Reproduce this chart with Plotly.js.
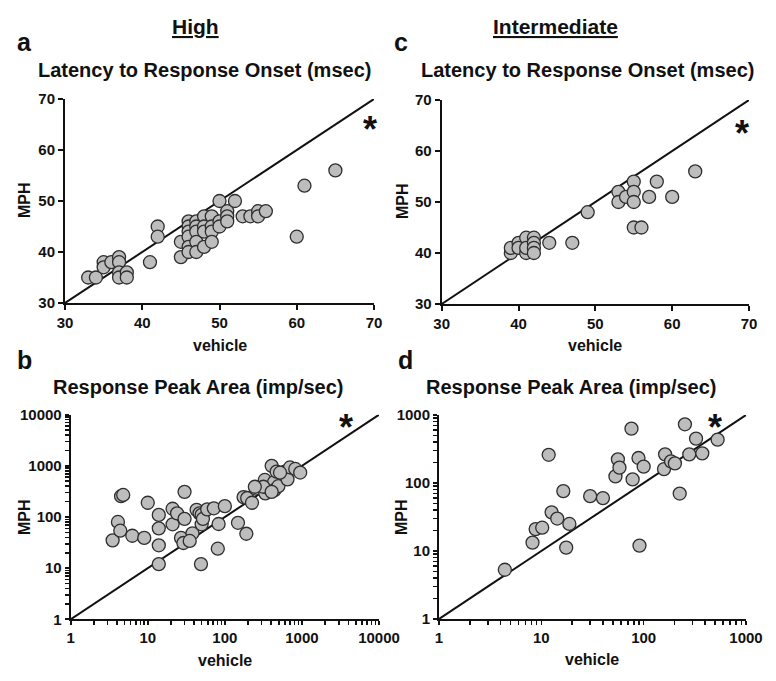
<!DOCTYPE html>
<html>
<head>
<meta charset="utf-8">
<script src="https://cdn.plot.ly/plotly-3.0.1.min.js"></script>
<style>html,body{margin:0;padding:0;background:#fff;}#chart{width:776px;height:681px;}</style>
</head>
<body>
<div id="chart"></div>
<script>
// ---- Data ----
// Panel a: High, Latency to Response Onset (msec)
const aVehicle = [33,34,35,35,36,37,37,37,37,38,38,41,42,42,45,45,46,46,46,46,46,46,47,47,47,47,47,48,48,48,48,49,49,49,49,50,50,50,51,51,51,52,53,54,55,55,56,60,61,65];
const aMPH     = [35,35,38,37,38,39,38,36,35,36,35,38,45,43,39,42,46,45,44,43,41,40,46,45,44,42,40,47,45,44,41,47,45,44,42,50,46,45,48,47,46,50,47,47,48,47,48,43,53,56];
// Panel c: Intermediate, Latency to Response Onset (msec)
const cVehicle = [39,39,40,40,41,41,41,42,42,42,42,44,47,49,53,53,54,55,55,55,55,56,57,58,60,63];
const cMPH     = [40,41,42,41,43,40,41,43,42,41,40,42,42,48,52,50,51,54,52,50,45,45,51,54,51,56];
// Panel b: High, Response Peak Area (imp/sec)
const bVehicle = [3.5,4.1,4.4,4.5,4.8,6.3,9,10,13.9,13.9,13.9,13.9,21,21,24,27,29,30,30,38,35,43,47,50,50,49,52,59,72,83,81,100,148,190,175,195,225,250,330,335,370,405,435,440,470,495,600,650,700,820,950,316,245,405,520];
const bMPH     = [35,80,54,255,270,43,39,190,110,60,28,12,72,145,118,39,31,310,92,48,34,138,118,110,72,12,92,141,148,73,24,163,77,47,245,235,190,360,530,290,360,1000,480,335,770,400,770,545,930,870,740,390,390,310,735];
// Panel d: Intermediate, Response Peak Area (imp/sec)
const dVehicle = [4.4,8.2,8.8,10.2,11.8,12.6,14.3,16.4,17.5,18.8,30,40,53,56,58,76,78,89,91,100,158,162,185,202,225,253,279,325,374,528];
const dMPH     = [5.3,13.3,21,22,260,37,30,76,11.2,25,64,60,125,223,168,630,113,233,12,174,160,264,208,194,70,730,264,450,273,434];
// Identity lines (MPH = vehicle)
const linLine = [30, 70];
const logLineB = [1, 10000];
const logLineD = [1, 1000];
// Tick labels
const linTicks = [30, 40, 50, 60, 70];
const logTicksB = [1, 10, 100, 1000, 10000];
const logTicksD = [1, 10, 100, 1000];
const minorDigits = [2, 3, 4, 5, 6, 7, 8, 9];
// Texts
const colTitles = ['High', 'Intermediate'];
const panelLetters = ['a', 'b', 'c', 'd'];
const panelTitles = ['Latency to Response Onset (msec)', 'Response Peak Area (imp/sec)'];

// ---- Drawing ----
const W = 776, H = 681;
const FONT = 'Arial, "Liberation Sans", sans-serif';
const fx = p => p / W;
const fy = p => 1 - p / H;

const marker = {size: 13, color: '#bdbdbd', line: {color: '#2e2e2e', width: 1.3}};
const lineStyle = {color: '#111', width: 2};

function pts(x, y, xa, ya) {
  return {x: x, y: y, xaxis: xa, yaxis: ya, type: 'scatter', mode: 'markers', marker: marker, hoverinfo: 'x+y', cliponaxis: false};
}
function idLine(v, xa, ya) {
  return {x: v, y: v, xaxis: xa, yaxis: ya, type: 'scatter', mode: 'lines', line: lineStyle, hoverinfo: 'skip'};
}

const data = [
  idLine(linLine, 'x', 'y'), pts(aVehicle, aMPH, 'x', 'y'),
  idLine(logLineB, 'x2', 'y2'), pts(bVehicle, bMPH, 'x2', 'y2'),
  idLine(linLine, 'x3', 'y3'), pts(cVehicle, cMPH, 'x3', 'y3'),
  idLine(logLineD, 'x4', 'y4'), pts(dVehicle, dMPH, 'x4', 'y4')
];

const tickFont = {family: FONT, size: 15, color: '#111', weight: 'bold'};
function linAxis(domain, anchor) {
  return {domain: domain, anchor: anchor, range: [30, 70], tickmode: 'array', tickvals: linTicks, ticktext: linTicks.map(String),
    showline: true, linewidth: 2, linecolor: '#111', ticks: 'outside', ticklen: 5, tickwidth: 2, tickcolor: '#111',
    showgrid: false, zeroline: false, tickfont: tickFont, fixedrange: true};
}
function logAxis(domain, anchor, maxExp, tv) {
  // major decades carry labels; digits 2..9 of each decade get unlabeled ticks
  const vals = [], texts = [];
  tv.forEach((dec, i) => {
    vals.push(dec); texts.push(String(dec));
    if (i < tv.length - 1) minorDigits.forEach(d => { vals.push(dec * d); texts.push(''); });
  });
  return {domain: domain, anchor: anchor, type: 'log', range: [0, maxExp], tickmode: 'array', tickvals: vals, ticktext: texts,
    showline: true, linewidth: 2, linecolor: '#111', ticks: 'outside', ticklen: 4, tickwidth: 1.6, tickcolor: '#111',
    showgrid: false, zeroline: false, tickfont: tickFont, fixedrange: true};
}

const layout = {
  width: W, height: H,
  margin: {l: 0, r: 0, t: 0, b: 0},
  paper_bgcolor: '#fff', plot_bgcolor: '#fff',
  showlegend: false,
  font: {family: FONT, color: '#111'},
  xaxis:  linAxis([fx(65), fx(374)], 'y'),
  yaxis:  linAxis([fy(303), fy(99)], 'x'),
  xaxis2: logAxis([fx(70.7), fx(379)], 'y2', 4, logTicksB),
  yaxis2: logAxis([fy(619.3), fy(414.7)], 'x2', 4, logTicksB),
  xaxis3: linAxis([fx(441.7), fx(749)], 'y3'),
  yaxis3: linAxis([fy(304), fy(100)], 'x3'),
  xaxis4: logAxis([fx(439), fx(746)], 'y4', 3, logTicksD),
  yaxis4: logAxis([fy(619), fy(415)], 'x4', 3, logTicksD),
  annotations: []
};

function ann(text, x, y, size, extra) {
  layout.annotations.push(Object.assign({
    text: text, x: fx(x), y: fy(y), xref: 'paper', yref: 'paper',
    xanchor: 'center', yanchor: 'middle', showarrow: false,
    font: {family: FONT, size: size, color: '#111', weight: 'bold'}
  }, extra || {}));
}

// column headers
ann('<u>' + colTitles[0] + '</u>', 195, 27, 21);
ann('<u>' + colTitles[1] + '</u>', 555, 27, 21);
// panel letters
ann(panelLetters[0], 24, 42, 25);
ann(panelLetters[1], 25, 360, 25);
ann(panelLetters[2], 401, 42, 25);
ann(panelLetters[3], 405, 360, 25);
// panel titles
ann(panelTitles[0], 204.5, 70, 20);
ann(panelTitles[0], 587, 70, 20);
ann(panelTitles[1], 199, 387, 20);
ann(panelTitles[1], 571, 387, 20);
// axis titles
ann('vehicle', 219.5, 345, 16);
ann('vehicle', 595, 345, 16);
ann('vehicle', 225, 660, 16);
ann('vehicle', 592, 659, 16);
ann('MPH', 24, 200, 16, {textangle: -90});
ann('MPH', 402, 201, 16, {textangle: -90});
ann('MPH', 24, 517, 16, {textangle: -90});
ann('MPH', 401, 517, 16, {textangle: -90});
// significance asterisks
ann('*', 370, 129, 36);
ann('*', 742, 134, 36);
ann('*', 346, 427, 36);
ann('*', 715, 427, 36);

Plotly.newPlot('chart', data, layout, {displayModeBar: false, staticPlot: true});
</script>
</body>
</html>
